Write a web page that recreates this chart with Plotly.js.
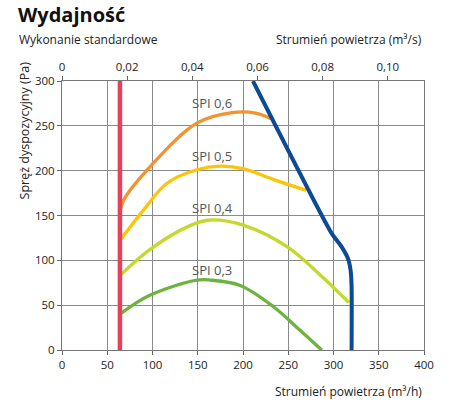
<!DOCTYPE html>
<html><head><meta charset="utf-8">
<script src="https://cdn.plot.ly/plotly-3.0.1.min.js"></script>
<style>html,body{margin:0;padding:0;background:#fff}#chart{width:450px;height:402px}</style>
</head><body><div id="chart"></div>
<script>
// m3/h on x, Pa on y
const redX = [64, 64];
const redY = [0, 300];
const blueX = [211, 298, 309, 316, 319, 320, 320];
const blueY = [300, 130, 115, 102, 88, 70, 0];
const spi06X = [64, 68, 97, 149, 190, 215, 231];
const spi06Y = [153, 167, 204, 253, 265, 264, 258];
const spi05X = [64, 90, 116, 149, 175, 201, 234, 270];
const spi05Y = [122, 156, 186, 201, 205, 202, 190, 178];
const spi04X = [64, 97, 142, 164, 201, 249, 285, 317];
const spi04Y = [83, 112, 139, 145, 139, 115, 84, 53];
const spi03X = [64, 97, 149, 164, 197, 234, 263, 287];
const spi03Y = [40, 61, 78, 78, 72, 48, 22, 0];
const spiLabels = ["SPI 0,6", "SPI 0,5", "SPI 0,4", "SPI 0,3"];
const spiLabelX = [166, 166, 166, 166];
const spiLabelY = [276, 216, 158, 89];
const bottomTicks = [0, 50, 100, 150, 200, 250, 300, 350, 400];
const leftTicks = [0, 50, 100, 150, 200, 250, 300];
const topTickVals = [0, 0.02, 0.04, 0.06, 0.08, 0.10];
const topTickText = ["0", "0,02", "0,04", "0,06", "0,08", "0,10"];

const FONT = "Open Sans, sans-serif";
const gridC = "#8a8a8a";

function curve(x, y, color, w, shape, sm) {
  return {x: x, y: y, type: "scatter", mode: "lines", line: {color: color, width: w, shape: shape || "spline", smoothing: sm === undefined ? 1 : sm}, hoverinfo: "skip", showlegend: false};
}

const traces = [
  curve(spi06X, spi06Y, "#f3922f", 3.3),
  curve(spi05X, spi05Y, "#fcc50a", 3.3),
  curve(spi04X, spi04Y, "#c5d82e", 3.3),
  curve(spi03X, spi03Y, "#6db33f", 3.3),
  curve(redX, redY, "#e8405a", 4.5, "linear"),
  curve(blueX, blueY, "#0c4a93", 4, "spline", 0.6),
  {x: [0, 400/3600], y: [0, 0], xaxis: "x2", yaxis: "y", type: "scatter", mode: "lines", line: {width: 0}, opacity: 0, hoverinfo: "skip", showlegend: false}
];

const annotations = spiLabels.map((t, i) => ({x: spiLabelX[i], y: spiLabelY[i], xref: "x", yref: "y", text: t, showarrow: false, font: {family: FONT, size: 13, color: "#555"}}));
annotations.push(
  {xref: "paper", yref: "paper", x: -0.123, y: 1.115, xanchor: "left", yanchor: "bottom", text: "Wykonanie standardowe", showarrow: false, font: {family: FONT, size: 12, color: "#222"}},
  {xref: "paper", yref: "paper", x: 1.0, y: 1.115, xanchor: "right", yanchor: "bottom", text: "Strumień powietrza (m³/s)", showarrow: false, font: {family: FONT, size: 12, color: "#222"}},
  {xref: "paper", yref: "paper", x: 1.0, y: -0.115, xanchor: "right", yanchor: "top", text: "Strumień powietrza (m³/h)", showarrow: false, font: {family: FONT, size: 12, color: "#222"}},
  {xref: "paper", yref: "paper", x: -0.105, y: 1.08, xanchor: "center", yanchor: "top", textangle: -90, text: "Spręż dyspozycyjny (Pa)", showarrow: false, font: {family: FONT, size: 12.5, color: "#222"}}
);

const layout = {
  width: 450, height: 402,
  margin: {l: 62, r: 26, t: 81, b: 52, pad: 0},
  paper_bgcolor: "#fff", plot_bgcolor: "#fff",
  title: {text: "<b>Wydajność</b>", x: 18/450, xanchor: "left", xref: "container", y: 1 - 8/402, yanchor: "top", yref: "container", font: {family: FONT, size: 20, color: "#111"}},
  xaxis: {range: [0, 400], tickvals: bottomTicks, ticks: "outside", ticklen: 4, tickcolor: "#666", showgrid: true, gridcolor: gridC, gridwidth: 1, zeroline: false, showline: true, linecolor: "#777", linewidth: 1, mirror: true, tickfont: {family: FONT, size: 11.5, color: "#222"}, fixedrange: true},
  xaxis2: {range: [0, 400/3600], overlaying: "x", side: "top", tickvals: topTickVals, ticktext: topTickText, ticks: "outside", ticklen: 4, tickcolor: "#666", showgrid: false, zeroline: false, showline: false, tickfont: {family: FONT, size: 11.5, color: "#222"}, fixedrange: true},
  yaxis: {range: [0, 300], tickvals: leftTicks, ticks: "outside", ticklen: 4, tickcolor: "#666", showgrid: true, gridcolor: gridC, gridwidth: 1, zeroline: false, showline: true, linecolor: "#777", linewidth: 1, mirror: true, tickfont: {family: FONT, size: 11.5, color: "#222"}, fixedrange: true},
  annotations: annotations,
  showlegend: false
};

Plotly.newPlot("chart", traces, layout, {displayModeBar: false, staticPlot: true});
</script></body></html>
